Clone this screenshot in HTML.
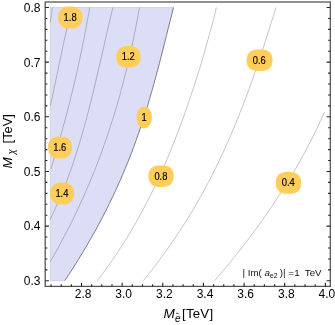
<!DOCTYPE html>
<html><head><meta charset="utf-8"><style>
html,body{margin:0;padding:0;background:#fff;}
body{width:335px;height:325px;position:relative;overflow:hidden;font-family:"Liberation Sans",sans-serif;}
svg text{font-family:"Liberation Sans",sans-serif;white-space:pre;}
</style></head><body>
<svg width="335" height="325" viewBox="0 0 335 325" style="position:absolute;left:0;top:0;will-change:transform">
<path d="M50.3,7.5 L173.5,7.4 L171.8,14.4 L170.0,21.4 L168.2,28.4 L166.5,35.4 L164.7,42.4 L163.0,49.4 L161.2,56.4 L159.4,63.4 L157.5,70.4 L155.6,77.5 L153.7,84.5 L151.7,91.5 L149.7,98.5 L147.6,105.5 L145.5,112.5 L143.2,119.5 L140.9,126.5 L138.5,133.5 L136.0,140.5 L133.5,147.5 L130.8,154.5 L128.1,161.5 L125.2,168.5 L122.3,175.5 L119.2,182.5 L116.1,189.5 L112.8,196.5 L109.4,203.5 L105.9,210.5 L102.3,217.6 L98.6,224.6 L94.8,231.6 L90.8,238.6 L86.8,245.6 L82.6,252.6 L78.3,259.6 L74.0,266.6 L69.5,273.6 L64.8,280.6 L50.3,280.8 Z" fill="#dcdef5" stroke="none"/>
<path d="M50.3,280.8 L50.3,7.5 L173.5,7.5" fill="none" stroke="#bfc2dc" stroke-width="0.6"/>
<path d="M50.3,280.8 L64.8,280.8" fill="none" stroke="#b9bcd6" stroke-width="0.6"/>
<path d="M52.3,7.5 L52.2,7.9 L52.2,8.3 L52.1,8.7 L52.1,9.0 L52.0,9.4 L52.0,9.8 L51.9,10.2 L51.9,10.6 L51.8,11.0 L51.8,11.4 L51.7,11.8 L51.7,12.1 L51.6,12.5 L51.6,12.9 L51.5,13.3 L51.5,13.7 L51.4,14.1 L51.4,14.5 L51.3,14.9 L51.3,15.2 L51.2,15.6 L51.2,16.0 L51.1,16.4 L51.1,16.8 L51.0,17.2 L51.0,17.6 L50.9,18.0 L50.9,18.3 L50.8,18.7 L50.8,19.1 L50.7,19.5 L50.7,19.9 L50.6,20.3 L50.6,20.7 L50.5,21.1 L50.5,21.4 L50.4,21.8 L50.4,22.2 L50.3,22.6" fill="none" stroke="#9496ab" stroke-width="0.7"/>
<path d="M71.2,7.5 L70.6,10.0 L70.1,12.6 L69.6,15.1 L69.0,17.6 L68.5,20.1 L68.0,22.7 L67.4,25.2 L66.9,27.7 L66.4,30.2 L65.8,32.8 L65.3,35.3 L64.8,37.8 L64.2,40.3 L63.7,42.9 L63.2,45.4 L62.6,47.9 L62.1,50.4 L61.6,53.0 L61.0,55.5 L60.5,58.0 L60.0,60.5 L59.4,63.1 L58.9,65.6 L58.4,68.1 L57.9,70.6 L57.3,73.2 L56.8,75.7 L56.3,78.2 L55.7,80.7 L55.2,83.3 L54.7,85.8 L54.1,88.3 L53.6,90.8 L53.1,93.4 L52.5,95.9 L52.0,98.4 L51.5,100.9 L50.9,103.5 L50.4,106.0" fill="none" stroke="#9496ab" stroke-width="0.7"/>
<path d="M89.7,7.5 L89.0,11.6 L88.3,15.8 L87.5,19.9 L86.8,24.0 L86.0,28.2 L85.2,32.3 L84.4,36.5 L83.6,40.6 L82.7,44.7 L81.9,48.9 L81.0,53.0 L80.2,57.1 L79.3,61.3 L78.4,65.4 L77.4,69.5 L76.5,73.7 L75.6,77.8 L74.6,81.9 L73.6,86.1 L72.6,90.2 L71.6,94.4 L70.6,98.5 L69.6,102.6 L68.5,106.8 L67.4,110.9 L66.4,115.0 L65.3,119.2 L64.1,123.3 L63.0,127.4 L61.9,131.6 L60.7,135.7 L59.6,139.8 L58.4,144.0 L57.2,148.1 L56.0,152.3 L54.7,156.4 L53.5,160.5 L52.2,164.7 L50.9,168.8" fill="none" stroke="#9496ab" stroke-width="0.7"/>
<path d="M112.9,7.5 L111.6,12.9 L110.3,18.4 L109.0,23.8 L107.7,29.3 L106.5,34.7 L105.2,40.1 L104.0,45.6 L102.8,51.0 L101.5,56.4 L100.3,61.9 L99.0,67.3 L97.8,72.8 L96.5,78.2 L95.2,83.6 L93.9,89.1 L92.6,94.5 L91.3,100.0 L89.9,105.4 L88.5,110.8 L87.1,116.3 L85.6,121.7 L84.1,127.1 L82.6,132.6 L81.0,138.0 L79.4,143.5 L77.7,148.9 L76.0,154.3 L74.2,159.8 L72.4,165.2 L70.5,170.7 L68.5,176.1 L66.5,181.5 L64.4,187.0 L62.2,192.4 L59.9,197.8 L57.6,203.3 L55.2,208.7 L52.7,214.2 L50.1,219.6" fill="none" stroke="#9496ab" stroke-width="0.7"/>
<path d="M139.5,7.5 L138.3,14.0 L137.1,20.5 L135.8,27.1 L134.5,33.6 L133.2,40.1 L131.8,46.6 L130.3,53.1 L128.9,59.7 L127.3,66.2 L125.7,72.7 L124.1,79.2 L122.4,85.7 L120.6,92.3 L118.8,98.8 L116.9,105.3 L115.0,111.8 L113.0,118.3 L110.9,124.9 L108.8,131.4 L106.6,137.9 L104.3,144.4 L102.0,151.0 L99.6,157.5 L97.1,164.0 L94.6,170.5 L91.9,177.0 L89.2,183.6 L86.4,190.1 L83.6,196.6 L80.6,203.1 L77.6,209.6 L74.5,216.2 L71.3,222.7 L68.0,229.2 L64.6,235.7 L61.1,242.2 L57.6,248.8 L53.9,255.3 L50.2,261.8" fill="none" stroke="#9496ab" stroke-width="0.7"/>
<path d="M173.5,7.4 L171.8,14.4 L170.0,21.4 L168.2,28.4 L166.5,35.4 L164.7,42.4 L163.0,49.4 L161.2,56.4 L159.4,63.4 L157.5,70.4 L155.6,77.5 L153.7,84.5 L151.7,91.5 L149.7,98.5 L147.6,105.5 L145.5,112.5 L143.2,119.5 L140.9,126.5 L138.5,133.5 L136.0,140.5 L133.5,147.5 L130.8,154.5 L128.1,161.5 L125.2,168.5 L122.3,175.5 L119.2,182.5 L116.1,189.5 L112.8,196.5 L109.4,203.5 L105.9,210.5 L102.3,217.6 L98.6,224.6 L94.8,231.6 L90.8,238.6 L86.8,245.6 L82.6,252.6 L78.3,259.6 L74.0,266.6 L69.5,273.6 L64.8,280.6" fill="none" stroke="#6d6f7c" stroke-width="0.9"/>
<path d="M216.4,7.5 L214.7,14.5 L212.9,21.5 L211.0,28.5 L209.1,35.5 L207.2,42.5 L205.2,49.5 L203.2,56.5 L201.1,63.5 L199.0,70.5 L196.8,77.5 L194.6,84.5 L192.3,91.5 L189.9,98.5 L187.5,105.5 L185.1,112.5 L182.6,119.5 L180.0,126.5 L177.4,133.5 L174.6,140.5 L171.8,147.6 L169.0,154.6 L166.0,161.6 L163.0,168.6 L159.8,175.6 L156.6,182.6 L153.2,189.6 L149.8,196.6 L146.2,203.6 L142.5,210.6 L138.7,217.6 L134.8,224.6 L130.7,231.6 L126.4,238.6 L122.0,245.6 L117.5,252.6 L112.7,259.6 L107.8,266.6 L102.7,273.6 L97.4,280.6" fill="none" stroke="#acacac" stroke-width="0.7"/>
<path d="M276.0,7.5 L273.8,14.5 L271.6,21.5 L269.4,28.5 L267.2,35.5 L264.9,42.5 L262.6,49.5 L260.3,56.5 L258.0,63.5 L255.6,70.5 L253.2,77.5 L250.7,84.5 L248.1,91.5 L245.5,98.5 L242.9,105.5 L240.1,112.5 L237.3,119.5 L234.5,126.5 L231.5,133.5 L228.5,140.5 L225.3,147.6 L222.1,154.6 L218.8,161.6 L215.4,168.6 L211.9,175.6 L208.2,182.6 L204.5,189.6 L200.6,196.6 L196.6,203.6 L192.5,210.6 L188.3,217.6 L183.9,224.6 L179.3,231.6 L174.7,238.6 L169.9,245.6 L164.9,252.6 L159.8,259.6 L154.5,266.6 L149.0,273.6 L143.4,280.6" fill="none" stroke="#acacac" stroke-width="0.7"/>
<path d="M324.3,112.3 L322.4,116.6 L320.5,120.9 L318.5,125.2 L316.4,129.6 L314.3,133.9 L312.2,138.2 L310.0,142.5 L307.7,146.8 L305.4,151.1 L303.1,155.5 L300.7,159.8 L298.3,164.1 L295.8,168.4 L293.3,172.7 L290.7,177.0 L288.1,181.3 L285.4,185.7 L282.7,190.0 L279.9,194.3 L277.1,198.6 L274.2,202.9 L271.3,207.2 L268.4,211.6 L265.4,215.9 L262.3,220.2 L259.3,224.5 L256.1,228.8 L252.9,233.1 L249.7,237.4 L246.4,241.8 L243.1,246.1 L239.7,250.4 L236.3,254.7 L232.8,259.0 L229.3,263.3 L225.7,267.7 L222.1,272.0 L218.4,276.3 L214.7,280.6" fill="none" stroke="#acacac" stroke-width="0.7"/>
<rect x="45.2" y="2.0" width="285.1" height="284.4" fill="none" stroke="#505050" stroke-width="1.25"/>
<path d="M45.2,280.80 h3.7 M330.3,280.80 h-3.7 M45.2,269.87 h2.2 M330.3,269.87 h-2.2 M45.2,258.94 h2.2 M330.3,258.94 h-2.2 M45.2,248.00 h2.2 M330.3,248.00 h-2.2 M45.2,237.07 h2.2 M330.3,237.07 h-2.2 M45.2,226.14 h3.7 M330.3,226.14 h-3.7 M45.2,215.21 h2.2 M330.3,215.21 h-2.2 M45.2,204.28 h2.2 M330.3,204.28 h-2.2 M45.2,193.34 h2.2 M330.3,193.34 h-2.2 M45.2,182.41 h2.2 M330.3,182.41 h-2.2 M45.2,171.48 h3.7 M330.3,171.48 h-3.7 M45.2,160.55 h2.2 M330.3,160.55 h-2.2 M45.2,149.62 h2.2 M330.3,149.62 h-2.2 M45.2,138.68 h2.2 M330.3,138.68 h-2.2 M45.2,127.75 h2.2 M330.3,127.75 h-2.2 M45.2,116.82 h3.7 M330.3,116.82 h-3.7 M45.2,105.89 h2.2 M330.3,105.89 h-2.2 M45.2,94.96 h2.2 M330.3,94.96 h-2.2 M45.2,84.02 h2.2 M330.3,84.02 h-2.2 M45.2,73.09 h2.2 M330.3,73.09 h-2.2 M45.2,62.16 h3.7 M330.3,62.16 h-3.7 M45.2,51.23 h2.2 M330.3,51.23 h-2.2 M45.2,40.30 h2.2 M330.3,40.30 h-2.2 M45.2,29.36 h2.2 M330.3,29.36 h-2.2 M45.2,18.43 h2.2 M330.3,18.43 h-2.2 M45.2,7.50 h3.7 M330.3,7.50 h-3.7 M51.02,286.4 v-2.2 M61.18,286.4 v-2.2 M71.34,286.4 v-2.2 M81.50,286.4 v-3.7 M91.66,286.4 v-2.2 M101.82,286.4 v-2.2 M111.98,286.4 v-2.2 M122.14,286.4 v-3.7 M132.30,286.4 v-2.2 M142.46,286.4 v-2.2 M152.62,286.4 v-2.2 M162.78,286.4 v-3.7 M172.94,286.4 v-2.2 M183.10,286.4 v-2.2 M193.26,286.4 v-2.2 M203.42,286.4 v-3.7 M213.58,286.4 v-2.2 M223.74,286.4 v-2.2 M233.90,286.4 v-2.2 M244.06,286.4 v-3.7 M254.22,286.4 v-2.2 M264.38,286.4 v-2.2 M274.54,286.4 v-2.2 M284.70,286.4 v-3.7 M294.86,286.4 v-2.2 M305.02,286.4 v-2.2 M315.18,286.4 v-2.2 M325.34,286.4 v-3.7" fill="none" stroke="#222" stroke-width="1.1"/>
<rect x="58.1" y="6.6" width="24.4" height="21.8" rx="9.6" ry="9.6" fill="#ffcd5a"/>
<text transform="translate(70.1,20.8) scale(0.94,1)" font-size="10" text-anchor="middle" fill="#000" stroke="#000" stroke-width="0.16">1.8</text>
<rect x="116.2" y="46.1" width="24.4" height="21.5" rx="9.6" ry="9.6" fill="#ffcd5a"/>
<text transform="translate(128.2,60.2) scale(0.94,1)" font-size="10" text-anchor="middle" fill="#000" stroke="#000" stroke-width="0.16">1.2</text>
<rect x="136.5" y="106.6" width="15.3" height="21.8" rx="7.7" ry="9.6" fill="#ffcd5a"/>
<text transform="translate(144.0,120.8) scale(0.94,1)" font-size="10" text-anchor="middle" fill="#000" stroke="#000" stroke-width="0.16">1</text>
<rect x="246.6" y="49.5" width="25.9" height="21.5" rx="9.6" ry="9.6" fill="#ffcd5a"/>
<text transform="translate(259.3,63.5) scale(0.94,1)" font-size="10" text-anchor="middle" fill="#000" stroke="#000" stroke-width="0.16">0.6</text>
<rect x="48.1" y="136.6" width="23.9" height="21.8" rx="9.6" ry="9.6" fill="#ffcd5a"/>
<text transform="translate(59.8,150.8) scale(0.94,1)" font-size="10" text-anchor="middle" fill="#000" stroke="#000" stroke-width="0.16">1.6</text>
<rect x="50.2" y="182.6" width="23.9" height="21.8" rx="9.6" ry="9.6" fill="#ffcd5a"/>
<text transform="translate(61.9,196.8) scale(0.94,1)" font-size="10" text-anchor="middle" fill="#000" stroke="#000" stroke-width="0.16">1.4</text>
<rect x="148.4" y="165.4" width="25.4" height="21.5" rx="9.6" ry="9.6" fill="#ffcd5a"/>
<text transform="translate(160.9,179.5) scale(0.94,1)" font-size="10" text-anchor="middle" fill="#000" stroke="#000" stroke-width="0.16">0.8</text>
<rect x="275.8" y="172.0" width="25.4" height="21.7" rx="9.6" ry="9.6" fill="#ffcd5a"/>
<text transform="translate(288.3,186.1) scale(0.94,1)" font-size="10" text-anchor="middle" fill="#000" stroke="#000" stroke-width="0.16">0.4</text>
<text x="40.4" y="285.1" font-size="12" text-anchor="end" fill="#000">0.3</text>
<text x="40.4" y="230.4" font-size="12" text-anchor="end" fill="#000">0.4</text>
<text x="40.4" y="175.8" font-size="12" text-anchor="end" fill="#000">0.5</text>
<text x="40.4" y="121.1" font-size="12" text-anchor="end" fill="#000">0.6</text>
<text x="40.4" y="66.5" font-size="12" text-anchor="end" fill="#000">0.7</text>
<text x="40.4" y="11.8" font-size="12" text-anchor="end" fill="#000">0.8</text>
<text x="83.1" y="298.4" font-size="12" text-anchor="middle" fill="#000">2.8</text>
<text x="123.7" y="298.4" font-size="12" text-anchor="middle" fill="#000">3.0</text>
<text x="164.4" y="298.4" font-size="12" text-anchor="middle" fill="#000">3.2</text>
<text x="205.0" y="298.4" font-size="12" text-anchor="middle" fill="#000">3.4</text>
<text x="245.7" y="298.4" font-size="12" text-anchor="middle" fill="#000">3.6</text>
<text x="286.3" y="298.4" font-size="12" text-anchor="middle" fill="#000">3.8</text>
<text x="326.9" y="298.4" font-size="12" text-anchor="middle" fill="#000">4.0</text>
<text x="163.6" y="317.8" font-size="13.6" fill="#000" font-style="italic">M</text>
<text x="175.0" y="321.5" font-size="10" fill="#000" font-style="italic">e</text>
<path d="M176.0,313.7 q0.8,-1.0 1.6,-0.3 q0.8,0.7 1.6,-0.3" fill="none" stroke="#000" stroke-width="0.7"/>
<text x="182.0" y="317.8" font-size="13.3" fill="#000" letter-spacing="0.2">[TeV]</text>
<g transform="translate(11.6,168.6) rotate(-90)"><text x="0" y="0" font-size="13.6" fill="#000" font-style="italic">M</text><text transform="translate(14.4,3.6) scale(0.78,1)" font-size="11.4" fill="#000" font-style="italic">χ</text><text x="25.2" y="0" font-size="12.8" fill="#000">[TeV]</text></g>
<text x="242.4" y="275.6" font-size="9.8" fill="#111">| Im( <tspan font-style="italic">a</tspan><tspan font-size="6.8" dy="2.2">e2</tspan><tspan dy="-2.2"><tspan dx="2.2">)|</tspan><tspan dx="2.6">=</tspan><tspan dx="0.4">1</tspan><tspan dx="5.0">TeV</tspan></tspan></text>
</svg>
</body></html>
